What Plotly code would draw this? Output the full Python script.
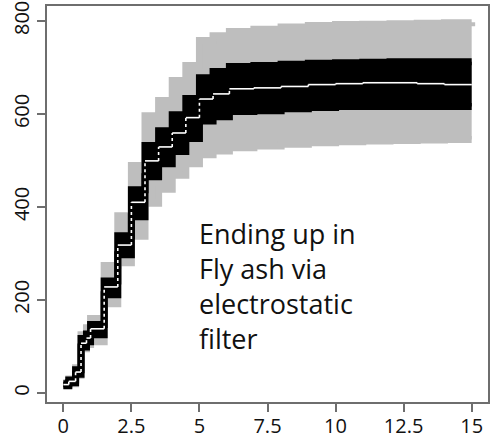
import plotly.graph_objects as go

# ---- data ----
t        = [0, 0.2, 0.45, 0.65, 0.85, 1.0, 1.5, 2.0, 2.5, 3.0, 3.5, 4.0, 4.5, 5.0, 5.5, 6.1,
            7.0, 8.0, 9.0, 10.0, 11.0, 12.0, 13.0, 14.0, 15.0]
median   = [18, 25, 45, 107, 118, 138, 228, 318, 410, 499, 529, 559, 592, 632, 643, 654,
            656, 659, 663, 665, 667, 667, 665, 663, 662]
black_lo = [16, 22, 40, 99, 110, 125, 211, 297, 379, 465, 493, 519, 547, 585, 594, 605,
            607, 611, 614, 616, 616, 616, 616, 616, 616]
black_hi = [20, 28, 50, 117, 127, 147, 241, 338, 437, 532, 564, 598, 633, 678, 691, 702,
            704, 707, 709, 710, 711, 712, 712, 712, 712]
gray_lo  = [14, 20, 38, 95, 104, 110, 192, 280, 337, 408, 438, 468, 493, 512, 520, 527,
            531, 535, 538, 540, 542, 543, 544, 545, 545]
gray_hi  = [22, 30, 54, 125, 140, 160, 274, 381, 489, 596, 629, 672, 704, 758, 768, 777,
            782, 787, 790, 792, 793, 794, 795, 796, 797]

x_ticks = [0, 2.5, 5, 7.5, 10, 12.5, 15]
x_tick_labels = ["0", "2.5", "5", "7.5", "10", "12.5", "15"]
y_ticks = [0, 200, 400, 600, 800]
y_tick_labels = ["0", "200", "400", "600", "800"]
note = "Ending up in<br>Fly ash via<br>electrostatic<br>filter"

GRAY = "#bebebe"
BLACK = "#000000"
AXC = "#6e6e6e"

fig = go.Figure()

def band(lo, hi, color, w):
    fig.add_trace(go.Scatter(x=t, y=lo, mode="lines", line=dict(color=color, width=w, shape="hv"),
                             hoverinfo="skip", showlegend=False))
    fig.add_trace(go.Scatter(x=t, y=hi, mode="lines", line=dict(color=color, width=w, shape="hv"),
                             fill="tonexty", fillcolor=color, hoverinfo="skip", showlegend=False))

band(gray_lo, gray_hi, GRAY, 7)
band(black_lo, black_hi, BLACK, 7)

# median: solid horizontal treads, dotted risers
hx, hy, vx, vy = [], [], [], []
for i in range(len(t) - 1):
    hx += [t[i], t[i + 1], None]
    hy += [median[i], median[i], None]
    vx += [t[i + 1], t[i + 1], None]
    vy += [median[i], median[i + 1], None]
fig.add_trace(go.Scatter(x=hx, y=hy, mode="lines", line=dict(color="white", width=1.6),
                         hoverinfo="skip", showlegend=False))
fig.add_trace(go.Scatter(x=vx, y=vy, mode="lines", line=dict(color="white", width=1.6, dash="dot"),
                         hoverinfo="skip", showlegend=False))

fig.add_annotation(x=4.91, y=229, xref="x", yref="y", text=note, showarrow=False,
                   xanchor="left", yanchor="middle", align="left",
                   font=dict(family="Open Sans", size=27, color="#111111"))

axis_common = dict(showgrid=False, zeroline=False, showline=True, mirror=True,
                   linecolor=AXC, linewidth=1.5, ticks="outside", ticklen=8,
                   tickwidth=1.5, tickcolor=AXC, automargin=False,
                   ticklabeloverflow="allow",
                   tickfont=dict(family="Open Sans", size=20, color="#111111"))

fig.update_layout(
    width=493, height=438,
    margin=dict(l=47, r=5, t=6, b=36),
    paper_bgcolor="white", plot_bgcolor="white",
    xaxis=dict(range=[-0.6, 15.6], tickvals=x_ticks, ticktext=x_tick_labels,
               ticklabelstandoff=-3, **axis_common),
    yaxis=dict(range=[-19.4, 832], tickvals=y_ticks, ticktext=y_tick_labels, tickangle=-90,
               **axis_common),
)

fig.write_html("out.html", config={"displayModeBar": False},
               post_script="document.body.style.margin='0px';document.body.style.overflow='hidden';")
